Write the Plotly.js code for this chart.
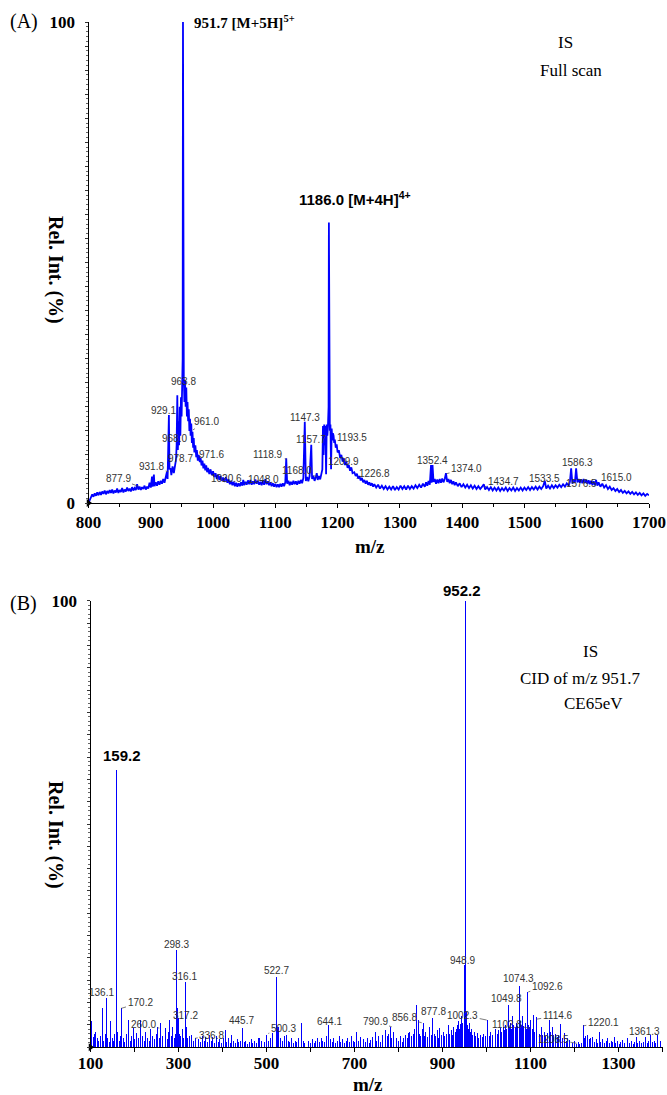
<!DOCTYPE html>
<html><head><meta charset="utf-8">
<script src="https://cdn.plot.ly/plotly-3.0.1.min.js"></script>
<style>html,body{margin:0;padding:0;background:#fff}#chart{width:667px;height:1095px}</style>
</head><body><div id="chart"></div>
<script>
// ---------- Panel A: full scan profile (m/z, rel. intensity %) ----------
const mzA = [800,802,804,806,808,810,812,814,816,818,820,822,824,826,828,830,832,834,836,838,840,842,844,846,848,850,852,854,856,858,860,862,864,866,868,870,872,874,876,878,880,882,884,886,888,890,892,894,896,898,900,902,903,905,906,908,910,912,914,916,918,920,922,924,926,927,929.1,930,931.8,933,935,937,939,940.5,941.5,942.6,943.5,944.5,945.5,946.5,947.5,948.5,949.5,950.5,951.2,951.7,952.2,953,954,955,956,957,958,959,960,961,962,963,964,965,966,967,968,969,970,971.6,973,974,975.5,977,978.7,980,981.5,983,984.5,986,987.5,989,990.5,992,994,996,998,1000,1002,1004,1006,1008,1010,1012,1014,1016,1018,1020.6,1023,1025,1027,1029,1031,1033,1035,1037,1039,1041,1043,1045,1047,1048.5,1050,1052,1054,1056,1058,1060,1062,1064,1066,1068,1070,1072,1074,1076,1078,1080,1082,1084,1086,1088,1090,1092,1094,1096,1098,1100,1102,1104,1106,1108,1110,1112,1114,1116,1117.5,1119,1121,1123,1125,1127,1129,1131,1133,1135,1137,1139,1141,1143,1145,1147.3,1149,1151,1153,1155,1157.7,1159,1161,1163,1165,1166.5,1168,1170,1172,1174,1175.5,1176.5,1177.5,1178.5,1179.5,1180.5,1181.5,1182.5,1183.5,1184.5,1185.5,1186,1186.5,1187.5,1188.5,1189.5,1190.5,1191.5,1192.5,1193.5,1194.5,1195.5,1197,1198.5,1200,1202,1204,1206,1208,1209.9,1212,1214,1216,1218,1220,1222,1224,1226.8,1229,1231,1233,1235,1237,1239,1241,1243,1245,1247,1249,1251,1253,1255,1257,1259,1262,1265,1268,1271,1274,1277,1280,1283,1286,1289,1292,1295,1298,1301,1304,1307,1310,1313,1316,1319,1322,1325,1328,1331,1334,1337,1340,1342,1344,1346,1348,1350,1351,1352.4,1354,1356,1358,1360,1362,1364,1366,1368,1370,1372,1374,1376,1378,1380,1382,1384,1386,1388,1390,1393,1396,1399,1402,1405,1408,1411,1414,1417,1420,1423,1426,1429,1432,1434.7,1437,1440,1443,1446,1449,1452,1455,1458,1461,1464,1467,1470,1473,1476,1479,1482,1485,1488,1491,1494,1497,1500,1503,1506,1509,1512,1515,1518,1521,1524,1527,1530,1532.7,1535,1538,1541,1544,1547,1550,1553,1556,1559,1562,1565,1568,1571,1573,1575,1577,1579,1581,1583,1585,1587,1589,1591,1593,1595,1597,1599,1601,1603,1605,1607,1609,1611,1613,1615,1617,1619,1622,1625,1628,1631,1634,1637,1640,1643,1646,1649,1652,1655,1658,1661,1664,1667,1670,1673,1676,1679,1682,1685,1688,1691,1694,1697,1700];
const intA = [0,0.6,1.2,1.8,1.3,2.0,1.5,2.2,1.6,2.3,1.7,2.4,1.9,2.6,1.8,2.5,2.0,2.7,2.1,2.8,2.0,2.6,2.2,3.0,2.1,2.7,2.3,3.1,2.2,2.8,2.4,3.2,2.5,3.0,2.4,3.3,2.6,3.1,2.7,3.9,2.8,3.4,2.7,3.3,2.9,3.6,2.8,3.4,3.0,4.2,3.2,5.5,3.4,5.9,3.5,4.3,3.6,4.5,3.8,4.6,4.0,5.0,4.2,5.6,6.5,5.0,18.3,7.0,7.2,5.8,7.6,6.2,8.5,9.0,12,22.4,11,17,12,20,14,22,18,25,30,100,32,26,21,25.5,20,24,18,21,17,19.5,15,17.5,14,16.5,12.5,14.8,11.5,13.5,10.5,12.0,9.5,11,8.8,10,8.5,9.4,7.8,8.8,7.2,8.2,6.8,7.8,6.4,7.3,6.0,7.0,5.8,6.6,5.4,6.2,5.0,5.9,4.8,5.6,4.6,5.3,4.4,5.4,4.2,4.9,3.9,4.6,3.7,4.4,3.5,4.2,3.4,4.1,3.5,4.3,3.6,4.8,3.7,4.4,3.8,4.7,3.9,4.8,3.8,4.5,3.9,4.9,4.0,4.6,3.8,4.4,3.7,4.6,3.8,5.0,3.9,4.5,3.7,4.3,3.5,4.1,3.4,4.0,3.3,3.9,3.3,4.0,3.4,4.1,3.5,4.3,9.3,4.0,4.6,3.7,4.4,3.8,4.6,3.9,4.5,3.8,4.6,4.0,4.8,4.1,5.2,16.9,4.6,5.4,4.5,5.6,12.1,5.0,5.6,4.6,5.4,6.2,4.8,5.6,4.9,5.8,7,16,10,16.3,12,16,6,16.3,14,16,20,58.3,20,15,16.3,7,15.5,13,14.5,14,12.5,13.2,11.5,12.2,10.5,11,9.4,10,8.6,9.3,7.9,8.6,7.3,7.9,6.7,7.4,6.2,6.4,5.6,6.1,5.1,5.6,4.7,5.2,4.3,4.8,4.0,4.6,3.8,4.3,3.6,4.1,3.4,3.9,3.2,3.8,3.0,3.6,2.9,3.5,2.8,3.4,2.8,3.5,2.7,3.3,2.8,3.6,2.9,3.5,2.8,3.6,2.9,3.5,3.0,3.7,3.1,3.8,3.2,4.0,3.4,4.3,3.6,4.6,3.8,7.9,4.2,7.9,4.4,5.0,4.0,4.9,4.1,5.0,4.2,5.1,4.3,5.0,6.2,4.4,5.0,4.1,4.8,3.9,4.5,3.7,4.3,3.5,4.1,3.3,3.9,3.2,3.8,3.1,3.7,3.0,3.6,2.9,3.5,2.9,3.4,3.9,2.8,3.3,2.7,3.3,2.6,3.2,2.6,3.2,2.5,3.1,2.6,3.2,2.5,3.1,2.6,3.2,2.5,3.1,2.6,3.2,2.6,3.2,2.7,3.3,2.7,3.3,2.8,3.4,2.8,3.4,2.9,3.5,4.6,3.0,3.6,3.0,3.7,3.1,3.7,3.2,3.8,3.3,3.9,3.4,4.1,3.6,4.4,7.2,4.0,4.8,4.2,7.2,4.3,5.0,4.2,4.9,4.1,5.0,4.2,4.8,4.0,4.7,3.9,4.6,3.8,4.5,3.7,4.8,3.6,4.3,3.4,4.0,3.2,3.7,2.9,3.4,2.7,3.1,2.5,2.9,2.3,2.7,2.1,2.5,2.0,2.4,1.9,2.3,1.8,2.2,1.7,2.1,1.6,2.0,1.5,1.9,1.6];

// ---------- Panel B: CID product-ion spectrum (sticks) ----------
const mzB = [101,103,106,109,112,115,119,123,127,130,133,136.1,139,143,146,149,152,155,158.8,159.2,162,165,168,170.2,174,178,182,186,190,194,197,201,205,209,214,218,222,226,229,233,237,241,245,249,253,256,260,263,267,270,274,277,280,283,287,290,293,296.5,298,300,302,305,309,312,315.3,317.5,320,324,330,335,338,342,346,350,354,358,362,366,370,374,378,382,386,390,394,398,402,406,410,414,418,421,425,429,433,437,441,445.7,449,453,457,461,465,469,473,477,481,484,488,492,496,501,505,509,513,517,522.7,525,528,532,536,540,545,549,553,557,561,565,569,573,579,583,587,592,596,600,604,608,612,616,620,624,628,632,636,641,645,649,653,657,661,665,669,673,677,681,685,689,693,697,
700,705,709,713,717,721,725,729,733,737,741,747,751,755,759,763,767,770,774,778,781,785,789,792,796,800,804,808,812,816,820,823,826,830,834,837,840,842,845,848,851,854,856,859,862,866,870,874,878,881,885,888,891,894,898,902,905,909,913,916,920,923,926,929,932,934,936,938,940,942,944,946,948.9,950.5,951.9,952.2,954,955.5,957,959,961,963,966,969,972,975,979,982,986,990,994,998,1002.3,1006,1010,1013,1017,1020,1024,1028,1032,1035,1038,1041,1044,1046,1049.8,1052,1055,1057,1059,1062,1065,1067,1069,1071,1074.3,1077,1080,1082,1085,1088,1090,1092.6,1095,1098,1101,1104,1107,1110,1114.6,1117,1120,1124,1127,1131,1134,1138,1143,1146,1150,1153,1157,1161,1164,1168,1172,1177,1181,1185,1188,1192,1196,1200,1204,1208.5,1212,1216,1220.1,1223,1226,1230,1234,1237,1241,1245,1249,1253,1256,1260,1264,1268,1272,1275,1279,1283,1287,1290,1294,1298,1302,1305,1309,1313,1317,1321,1325,1329,1333,1337,1340,1344,1348,1352,1356,1361.3,1365,1369,1373,1377,1381,1385,1388,1392,1395];
const intB = [3.0,5.8,2.2,3.0,3.4,2.0,1.5,2.5,8.7,1.5,3.0,11.0,2.0,1.2,6.0,2.0,1.5,3.0,48,62,3.5,1.5,2.5,8.7,2.0,1.2,3.0,6.1,1.5,2.5,4.3,1.8,3.2,2.0,6.1,2.5,1.5,3.5,2.0,1.5,4.0,2.5,1.8,3.0,4.5,2.0,5.4,2.5,3.0,4.3,1.8,3.5,6.1,2.5,4.6,2.0,3.0,21.8,8.7,6.5,3.0,2.5,4.0,2.0,14.7,4.5,2.0,2.5,2.8,1.5,2.0,1.0,1.8,1.2,2.6,1.5,2.2,1.2,2.8,1.5,2.3,1.0,2.5,1.2,1.8,1.0,2.0,3.9,1.2,2.0,1.0,2.8,1.5,1.0,1.8,1.2,1.5,4.3,1.2,1.5,0.8,1.2,1.8,1.0,1.5,1.0,2.0,2.0,1.5,1.0,1.2,2.8,1.5,2.0,3.2,2.5,15.8,4.5,4.6,2.0,1.5,2.5,2.8,1.5,1.2,2.0,1.0,1.5,1.2,2.0,5.4,1.5,1.0,2.8,1.5,1.0,1.8,1.0,1.5,2.0,1.2,2.0,1.5,1.2,2.5,5.0,1.8,1.2,2.0,1.0,1.5,2.5,1.2,1.8,1.0,1.5,2.0,1.2,2.5,1.5,
1.2,3.5,1.5,2.2,1.0,1.8,1.2,2.0,1.0,1.6,2.2,3.5,1.5,2.5,1.2,2.8,2.0,3.9,2.5,3.0,4.6,2.0,3.5,4.3,2.0,1.5,2.5,1.2,2.0,2.8,2.0,3.2,3.5,2.5,3.0,4.0,9.5,3.5,6.1,3.0,2.5,4.0,5.4,2.5,3.5,2.2,4.5,2.8,6.5,3.0,2.5,3.8,2.0,4.3,2.8,3.5,2.5,3.0,5.0,3.0,3.8,2.8,4.5,3.5,4.2,5.0,5.8,4.0,5.2,4.5,6.9,5.5,18.4,8,43,100,8,6.5,5.0,4.2,5.5,3.5,4.0,2.8,3.5,2.5,3.2,2.0,2.8,2.2,3.0,2.5,6.1,2.5,3.5,2.8,3.5,4.0,3.0,3.8,4.3,3.5,4.5,3.8,5.0,4.0,9.5,4.5,5.5,4.2,6.9,5.0,4.5,6.5,5.5,4.8,13.7,5.8,5.0,6.9,4.8,5.5,4.2,12.4,5.0,4.5,6.1,4.0,7.3,3.5,6.8,3.8,3.0,4.6,2.8,3.5,2.5,3.2,6.1,3.5,4.6,2.8,3.0,2.2,2.8,5.2,2.0,3.2,1.5,2.0,1.6,1.2,1.0,1.5,0.8,1.2,0.8,1.0,5.0,2.0,2.5,2.8,1.8,2.0,2.4,1.2,1.8,1.0,3.5,1.2,1.8,1.0,1.5,2.0,1.0,1.5,1.2,2.4,1.0,1.5,0.8,1.2,1.6,1.0,1.2,2.0,1.0,1.4,0.8,1.2,2.4,1.0,1.5,1.0,1.2,2.4,1.0,1.5,2.8,1.2,1.5,1.0,2.8,1.2,1.5];

// ---------- axes / tick labels ----------
const xRangeA = [800, 1700];
const xRangeB = [100, 1400];
const xTickValsA = [800,900,1000,1100,1200,1300,1400,1500,1600,1700];
const xTickTextA = ['800','900','1000','1100','1200','1300','1400','1500','1600','1700'];
const xTickValsB = [100,200,300,400,500,600,700,800,900,1000,1100,1200,1300,1400];
const xTickTextB = ['100',' ','300',' ','500',' ','700',' ','900',' ','1100',' ','1300',' '];
const yTickVals = [0,5,10,15,20,25,30,35,40,45,50,55,60,65,70,75,80,85,90,95,100];
const yTickTextA = ['0',' ',' ',' ',' ',' ',' ',' ',' ',' ',' ',' ',' ',' ',' ',' ',' ',' ',' ',' ','100'];
const yTickTextB = [' ',' ',' ',' ',' ',' ',' ',' ',' ',' ',' ',' ',' ',' ',' ',' ',' ',' ',' ',' ','100'];

const SERIF = 'Liberation Serif, Times New Roman, serif';
const SANS = 'Liberation Sans, Arial, sans-serif';
const BLUE = '#0000ff';
const W = 667, H = 1095;
const px = (x) => x / W, py = (y) => 1 - y / H;

const traces = [
  {x: mzA, y: intA, type: 'scatter', mode: 'lines', line: {color: BLUE, width: 1.8}, xaxis: 'x', yaxis: 'y', hoverinfo: 'skip'},
  {x: mzB, y: intB, type: 'bar', width: 2.2, marker: {color: BLUE, line: {width: 0}}, xaxis: 'x2', yaxis: 'y2', hoverinfo: 'skip'},
  {x: [xRangeA[0]], y: [0], type: 'scatter', mode: 'markers', marker: {symbol: 'triangle-right', size: 7, color: '#000'}, cliponaxis: false, xaxis: 'x', yaxis: 'y'},
  {x: [xRangeB[0]], y: [0], type: 'scatter', mode: 'markers', marker: {symbol: 'triangle-right', size: 7, color: '#000'}, cliponaxis: false, xaxis: 'x2', yaxis: 'y2'}
];

const xTickFont = {family: SERIF, size: 17, color: '#000', weight: 'bold'};
const yTickFont = {family: SERIF, size: 17, color: '#000', weight: 'bold'};
function xaxisCfg(domain, range, vals, text, anchor) {
  return {domain, range, anchor, tickmode: 'array', tickvals: vals, ticktext: text,
    ticks: 'outside', ticklen: 4, tickwidth: 1, tickcolor: '#000',
    showline: true, linecolor: '#000', linewidth: 1, showgrid: false, zeroline: false,
    tickfont: xTickFont, fixedrange: true};
}
function yaxisCfg(domain, text, anchor) {
  return {domain, range: [0, 100], anchor, tickmode: 'array', tickvals: yTickVals, ticktext: text,
    ticks: 'outside', ticklen: 3, tickwidth: 1, tickcolor: '#333',
    minor: {tickmode: 'linear', tick0: 0, dtick: 1, ticks: 'outside', ticklen: 1.5, tickcolor: '#666', tickwidth: 1},
    ticklabelstandoff: 6,
    showline: true, linecolor: '#000', linewidth: 1, showgrid: false, zeroline: false,
    tickfont: yTickFont, fixedrange: true};
}

const small = {family: SANS, size: 10, color: '#333'};
function lab(xr, yr, text, x, y) {
  return {xref: xr, yref: yr, x, y, text, showarrow: false, font: small, xanchor: 'center', yanchor: 'middle'};
}
function lead(xr, yr, text, tx, ty, ex, ey) {
  return {xref: xr, yref: yr, axref: xr, ayref: yr, x: ex, y: ey, ax: tx, ay: ty, text,
    showarrow: true, arrowhead: 0, arrowwidth: 0.7, arrowcolor: '#444', standoff: 0, font: small};
}
function paperText(text, x, y, font, extra) {
  return Object.assign({xref: 'paper', yref: 'paper', x: px(x), y: py(y), text, showarrow: false, font,
    xanchor: 'center', yanchor: 'middle'}, extra || {});
}

const serifReg = {family: SERIF, size: 17, color: '#000'};
const serifBold = {family: SERIF, size: 20, color: '#000', weight: 'bold'};
const sansBold = {family: SANS, size: 15, color: '#000', weight: 'bold'};

const annotations = [
  // panel letters and text
  paperText('(A)', 24, 22, {family: SERIF, size: 20, color: '#000'}),
  paperText('(B)', 24, 603, {family: SERIF, size: 20, color: '#000'}),
  paperText('IS', 565, 43, serifReg),
  paperText('Full scan', 571, 70, serifReg),
  paperText('IS', 590, 651, serifReg),
  paperText('CID of m/z 951.7', 580, 678, serifReg),
  paperText('CE65eV', 593, 703, serifReg),
  paperText('Rel. Int. (%)', 56, 270, serifBold, {textangle: 90}),
  paperText('Rel. Int. (%)', 56, 835, serifBold, {textangle: 90}),
  paperText('m/z', 370, 546, {family: SERIF, size: 19, color: '#000', weight: 'bold'}),
  paperText('m/z', 368, 1084, {family: SERIF, size: 19, color: '#000', weight: 'bold'}),
  // big peak labels
  paperText('951.7 [M+5H]<sup>5+</sup>', 192, 22, {family: SERIF, size: 15, color: '#000', weight: 'bold'}, {xanchor: 'left'}),
  paperText('1186.0 [M+4H]<sup>4+</sup>', 297, 199, sansBold, {xanchor: 'left'}),
  paperText('159.2', 122, 755, sansBold),
  paperText('952.2', 462, 590, sansBold),
  // panel A small labels
  lab('x','y','929.1', 920.1, 19.2),
  lab('x','y','963.8', 953.3, 25.2),
  lab('x','y','968.0', 938.8, 13.5),
  lab('x','y','978.7', 948.5, 9.3),
  lab('x','y','1020.6', 1021.8, 5.1),
  lab('x','y','1147.3', 1147.5, 17.8),
  lab('x','y','1157.7', 1156.7, 13.1),
  lab('x','y','1209.9', 1209, 8.6),
  lab('x','y','1352.4', 1352.5, 8.9),
  lab('x','y','1533.5', 1532.7, 5.1),
  lab('x','y','1586.3', 1585.2, 8.4),
  lab('x','y','1576.5', 1591.6, 4.0),
  lead('x','y','877.9', 847.4, 5.0, 879.9, 3.5),
  lead('x','y','931.8', 901.4, 7.5, 928.1, 6.5),
  lead('x','y','961.0', 989.7, 16.9, 967.7, 15.2),
  lead('x','y','971.6', 997.8, 10.0, 979, 9.1),
  lead('x','y','1048.0', 1080.6, 4.8, 1051.2, 4.0),
  lead('x','y','1118.9', 1088.6, 10.0, 1118.1, 9.1),
  lead('x','y','1168.0', 1134.2, 6.7, 1166.3, 5.5),
  lead('x','y','1193.5', 1222.5, 13.6, 1195.7, 13.1),
  lead('x','y','1226.8', 1259.9, 6.2, 1230.5, 5.1),
  lead('x','y','1374.0', 1407, 7.1, 1375, 6.1),
  lead('x','y','1434.7', 1465.8, 4.4, 1436.4, 3.4),
  lead('x','y','1615.0', 1647.8, 5.3, 1621, 4.4),
  // panel B small labels
  lab('x2','y2','298.3', 295.9, 23.1),
  lab('x2','y2','316.1', 312.5, 15.8),
  lab('x2','y2','136.1', 125.5, 12.2),
  lab('x2','y2','317.2', 314.8, 7.2),
  lab('x2','y2','445.7', 443.6, 6.0),
  lab('x2','y2','522.7', 521.6, 17.3),
  lab('x2','y2','644.1', 642.7, 5.7),
  lab('x2','y2','877.8', 879.1, 8.0),
  lab('x2','y2','948.9', 945.9, 19.5),
  lab('x2','y2','1074.3', 1072.3, 15.3),
  lab('x2','y2','1049.8', 1045.9, 10.9),
  lab('x2','y2','1361.3', 1360.2, 3.5),
  lead('x2','y2','170.2', 212.5, 10.0, 169.3, 8.7),
  lead('x2','y2','260.0', 220, 5.0, 256.4, 4.3),
  lead('x2','y2','336.8', 375.5, 2.75, 337.5, 2.0),
  lead('x2','y2','500.3', 538.2, 4.25, 504.1, 3.1),
  lead('x2','y2','790.9', 746.6, 5.7, 784.5, 4.6),
  lead('x2','y2','856.8', 812.5, 6.6, 852.7, 5.5),
  lead('x2','y2','1002.3', 945.9, 7.2, 1000.5, 6.1),
  lead('x2','y2','1092.6', 1138.2, 13.6, 1095, 12.4),
  lead('x2','y2','1102.8', 1045.9, 5.2, 1098.9, 4.25),
  lead('x2','y2','1114.6', 1161.8, 7.1, 1114.1, 6.3),
  lead('x2','y2','1208.5', 1151.8, 1.8, 1205, 0.9),
  lead('x2','y2','1220.1', 1265.5, 5.6, 1220, 4.8)
];

const layout = {
  width: W, height: H,
  margin: {l: 0, r: 0, t: 0, b: 0, pad: 0},
  paper_bgcolor: '#fff', plot_bgcolor: '#fff',
  showlegend: false, hovermode: false, bargap: 0,
  xaxis: xaxisCfg([88.5 / W, 649 / W], xRangeA, xTickValsA, xTickTextA, 'y'),
  yaxis: yaxisCfg([py(503), py(22)], yTickTextA, 'x'),
  xaxis2: xaxisCfg([90.5 / W, 662.5 / W], xRangeB, xTickValsB, xTickTextB, 'y2'),
  yaxis2: yaxisCfg([py(1047.3), py(600.7)], yTickTextB, 'x2'),
  annotations
};
layout.xaxis.minor = {tickmode: 'linear', tick0: 800, dtick: 50, ticks: 'outside', ticklen: 3, tickcolor: '#000'};
layout.xaxis2.ticklabelstandoff = -4;

Plotly.newPlot('chart', traces, layout, {staticPlot: true, displayModeBar: false});
</script></body></html>
